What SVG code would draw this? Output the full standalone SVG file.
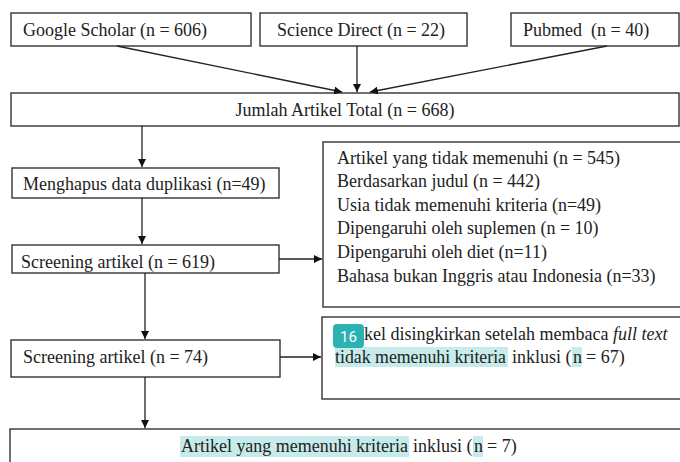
<svg xmlns="http://www.w3.org/2000/svg" width="680" height="462" viewBox="0 0 680 462">
<style>
.b{fill:#fff;stroke:#333;stroke-width:1.4}
.c{stroke:#222;stroke-width:1.3;fill:none}
.hl{fill:#c6ebea}
</style>
<defs>
<marker id="a" viewBox="0 0 10 10" refX="10" refY="5" markerWidth="8" markerHeight="8" markerUnits="userSpaceOnUse" orient="auto">
<path d="M0,0 L10,5 L0,10 z" fill="#111"/>
</marker>
</defs>
<rect width="680" height="462" fill="#fff"/>
<g font-family="Liberation Serif, Times New Roman, serif" font-size="18" fill="#222">
<g id="google"><rect class="b" x="11" y="13" width="240" height="33"/><text x="23" y="36">Google Scholar (n = 606)</text></g>
<g id="science"><rect class="b" x="260" y="13" width="207" height="33"/><text x="277" y="36">Science Direct (n = 22)</text></g>
<g id="pubmed"><rect class="b" x="511" y="13" width="168" height="33"/><text x="523" y="36" xml:space="preserve">Pubmed  (n = 40)</text></g>
<g id="total"><rect class="b" x="11" y="93" width="668" height="33"/><text x="345" y="116" text-anchor="middle">Jumlah Artikel Total (n = 668)</text></g>
<g id="dup"><rect class="b" x="12" y="168" width="267" height="30"/><text x="23" y="190">Menghapus data duplikasi (n=49)</text></g>
<g id="screen1"><rect class="b" x="12" y="245" width="267" height="28"/><text x="21" y="268">Screening artikel (n = 619)</text></g>
<g id="excl1"><rect class="b" x="323" y="142" width="360" height="165"/>
<text x="337" y="164">Artikel yang tidak memenuhi (n = 545)</text>
<text x="337" y="187">Berdasarkan judul (n = 442)</text>
<text x="337" y="211">Usia tidak memenuhi kriteria (n=49)</text>
<text x="337" y="234">Dipengaruhi oleh suplemen (n = 10)</text>
<text x="337" y="258">Dipengaruhi oleh diet (n=11)</text>
<text x="337" y="282">Bahasa bukan Inggris atau Indonesia (n=33)</text></g>
<g id="screen2"><rect class="b" x="11" y="340" width="269" height="37"/><text x="23" y="363">Screening artikel (n = 74)</text></g>
<g id="excl2"><rect class="b" x="322" y="317" width="362" height="82"/>
<rect class="hl" x="335" y="347" width="173" height="20"/><rect class="hl" x="572" y="347" width="10" height="20"/>
<text x="335" y="340">Artikel disingkirkan setelah membaca <tspan font-style="italic">full text</tspan></text>
<text y="363"><tspan x="335" textLength="171" lengthAdjust="spacingAndGlyphs">tidak memenuhi kriteria</tspan><tspan x="512">inklusi (</tspan><tspan x="573">n</tspan><tspan x="586">= 67)</tspan></text>
<rect x="333" y="324" width="31" height="24" rx="4" fill="#2bb3b3"/>
<text x="348.5" y="341.5" text-anchor="middle" font-family="Roboto, sans-serif" font-size="15" fill="#fff">16</text></g>
<g id="final"><rect class="b" x="10" y="429" width="680" height="40"/>
<rect class="hl" x="180" y="436" width="229" height="21"/><rect class="hl" x="473" y="436" width="10" height="21"/>
<text y="452"><tspan x="181" textLength="227" lengthAdjust="spacingAndGlyphs">Artikel yang memenuhi kriteria</tspan><tspan x="413">inklusi (</tspan><tspan x="474">n</tspan><tspan x="487">= 7)</tspan></text></g>
</g>
<g id="connectors">
<path class="c" d="M117,46 L342,92" marker-end="url(#a)"/>
<path class="c" d="M357,46 L357,92" marker-end="url(#a)"/>
<path class="c" d="M607,46 L370,92" marker-end="url(#a)"/>
<path class="c" d="M142,126 L142,167" marker-end="url(#a)"/>
<path class="c" d="M142,198 L142,244" marker-end="url(#a)"/>
<path class="c" d="M279,259 L322,259" marker-end="url(#a)"/>
<path class="c" d="M145,273 L145,339" marker-end="url(#a)"/>
<path class="c" d="M280,357 L321,357" marker-end="url(#a)"/>
<path class="c" d="M145,377 L145,428" marker-end="url(#a)"/>
</g>
</svg>
